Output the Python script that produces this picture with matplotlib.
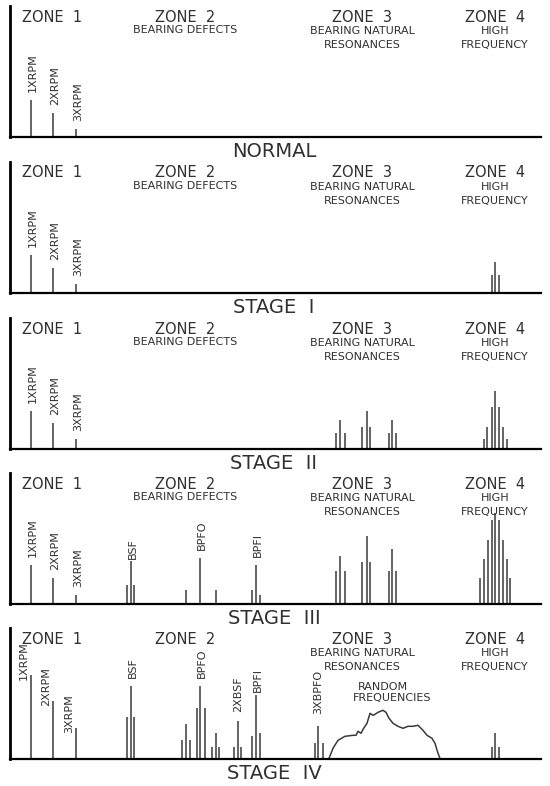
import matplotlib.pyplot as plt

# x positions are frequency positions along the axis, heights are amplitudes
x_rpm = [31, 53, 76]
rpm_labels = ['1XRPM', '2XRPM', '3XRPM']
rpm_normal = [37, 24, 8]
rpm_stage1 = [38, 25, 9]
rpm_stage2 = [38, 26, 10]
rpm_stage3 = [39, 26, 9]
rpm_stage4 = [84, 58, 31]

# stage I
z4_s1_x = [492, 495, 499]
z4_s1_h = [18, 31, 18]

# stage II
z3_x = [336, 340, 345, 362, 367, 370, 389, 392, 396]
z3_s2_h = [16, 29, 16, 22, 38, 22, 16, 29, 16]
z4_s2_x = [484, 487, 492, 495, 499, 503, 507]
z4_s2_h = [10, 22, 42, 58, 42, 22, 10]

# stage III
bsf_x = [127, 131, 134]
bsf_s3_h = [19, 43, 19]
bpfo_s3_x = [186, 200, 216]
bpfo_s3_h = [14, 46, 14]
bpfi_x = [252, 256, 260]
bpfi_s3_h = [14, 39, 9]
z3_s3_h = [33, 48, 33, 42, 68, 42, 33, 55, 33]
z4_s3_x = [480, 484, 488, 492, 495, 499, 503, 507, 510]
z4_s3_h = [26, 45, 64, 84, 91, 84, 64, 45, 26]

# stage IV
bsf_s4_h = [42, 73, 42]
side_x = [182, 186, 190]
side_h = [19, 35, 19]
bpfo_s4_x = [197, 200, 205]
bpfo_s4_h = [51, 73, 51]
bpfo_sb_x = [212, 216, 219]
bpfo_sb_h = [12, 26, 12]
bsf2_x = [234, 238, 241]
bsf2_h = [12, 38, 12]
bpfi_s4_h = [23, 64, 26]
bpfo3_x = [315, 318, 323]
bpfo3_h = [16, 33, 16]
random_x = [329, 333, 338, 345, 353, 356, 358, 361, 363, 367, 370, 373, 375,
            378, 383, 386, 389, 393, 398, 403, 408, 413, 418, 423, 427, 432,
            435, 438, 440]
random_h = [1, 11, 19, 23, 24, 24, 28, 26, 30, 36, 46, 44, 45, 47, 49, 47,
            41, 36, 33, 31, 33, 33, 34, 29, 24, 21, 16, 6, 1]
z4_s4_x = [492, 495, 499]
z4_s4_h = [12, 26, 12]

stage_titles = ['NORMAL', 'STAGE  I', 'STAGE  II', 'STAGE  III', 'STAGE  IV']
baselines = [137.3, 292.7, 449, 604.3, 759.3]

ink = '#303030'
line_c = '#3a3a3a'

fig = plt.figure(figsize=(5.5, 7.86), dpi=100)
axes = []
for b in baselines:
    ax = fig.add_axes([10 / 550, (786 - b) / 786, 531 / 550, 131 / 786])
    ax.set_xlim(10, 541)
    ax.set_ylim(0, 131)
    ax.set_xticks([])
    ax.set_yticks([])
    ax.spines['top'].set_visible(False)
    ax.spines['right'].set_visible(False)
    ax.spines['left'].set_linewidth(2.0)
    ax.spines['bottom'].set_linewidth(1.6)
    ax.patch.set_alpha(0)
    axes.append(ax)


def peaks(ax, xs, hs):
    ax.vlines(xs, 0, hs, color=line_c, linewidth=1.1)


def vlabel(ax, text, x, h, dx=2, dy=8):
    ax.text(x + dx, h + dy, text, rotation=90, ha='center', va='bottom',
            fontsize=8, color=ink)


def headers(ax, defects=True):
    ax.text(52, 120, 'ZONE  1', ha='center', va='center', fontsize=10.5, color=ink)
    ax.text(185, 120, 'ZONE  2', ha='center', va='center', fontsize=10.5, color=ink)
    ax.text(362, 120, 'ZONE  3', ha='center', va='center', fontsize=10.5, color=ink)
    ax.text(495, 120, 'ZONE  4', ha='center', va='center', fontsize=10.5, color=ink)
    if defects:
        ax.text(185, 107, 'BEARING DEFECTS', ha='center', va='center', fontsize=8, color=ink)
    ax.text(362, 106, 'BEARING NATURAL', ha='center', va='center', fontsize=8, color=ink)
    ax.text(362, 92, 'RESONANCES', ha='center', va='center', fontsize=8, color=ink)
    ax.text(495, 106, 'HIGH', ha='center', va='center', fontsize=8, color=ink)
    ax.text(495, 92, 'FREQUENCY', ha='center', va='center', fontsize=8, color=ink)


rpm_sets = [rpm_normal, rpm_stage1, rpm_stage2, rpm_stage3]
for ax, hs in zip(axes[:4], rpm_sets):
    peaks(ax, x_rpm, hs)
    for lab, x, h in zip(rpm_labels, x_rpm, hs):
        vlabel(ax, lab, x, h)

for i, ax in enumerate(axes):
    headers(ax, defects=(i < 4))
    ax.text(274, -14.5, stage_titles[i], ha='center', va='center',
            fontsize=14, color=ink, clip_on=False)

# stage I
peaks(axes[1], z4_s1_x, z4_s1_h)

# stage II
peaks(axes[2], z3_x, z3_s2_h)
peaks(axes[2], z4_s2_x, z4_s2_h)

# stage III
ax = axes[3]
peaks(ax, bsf_x, bsf_s3_h)
peaks(ax, bpfo_s3_x, bpfo_s3_h)
peaks(ax, bpfi_x, bpfi_s3_h)
peaks(ax, z3_x, z3_s3_h)
peaks(ax, z4_s3_x, z4_s3_h)
vlabel(ax, 'BSF', bsf_x[1], bsf_s3_h[1], dy=2)
vlabel(ax, 'BPFO', bpfo_s3_x[1], bpfo_s3_h[1])
vlabel(ax, 'BPFI', bpfi_x[1], bpfi_s3_h[1])

# stage IV
ax = axes[4]
peaks(ax, x_rpm, rpm_stage4)
for lab, x, h in zip(rpm_labels, x_rpm, rpm_stage4):
    vlabel(ax, lab, x, h, dx=-7, dy=-5)
peaks(ax, bsf_x, bsf_s4_h)
peaks(ax, side_x, side_h)
peaks(ax, bpfo_s4_x, bpfo_s4_h)
peaks(ax, bpfo_sb_x, bpfo_sb_h)
peaks(ax, bsf2_x, bsf2_h)
peaks(ax, bpfi_x, bpfi_s4_h)
peaks(ax, bpfo3_x, bpfo3_h)
peaks(ax, z4_s4_x, z4_s4_h)
ax.plot(random_x, random_h, color=line_c, linewidth=1.1)
vlabel(ax, 'BSF', bsf_x[1], bsf_s4_h[1])
vlabel(ax, 'BPFO', bpfo_s4_x[1], bpfo_s4_h[1])
vlabel(ax, '2XBSF', bsf2_x[1], bsf2_h[1], dx=0, dy=9)
vlabel(ax, 'BPFI', bpfi_x[1], bpfi_s4_h[1], dy=3)
vlabel(ax, '3XBPFO', bpfo3_x[1], bpfo3_h[1], dx=0, dy=12)
ax.text(383, 72, 'RANDOM', ha='center', va='center', fontsize=8, color=ink)
ax.text(392, 61, 'FREQUENCIES', ha='center', va='center', fontsize=8, color=ink)

fig.savefig('out.png', dpi=100)
